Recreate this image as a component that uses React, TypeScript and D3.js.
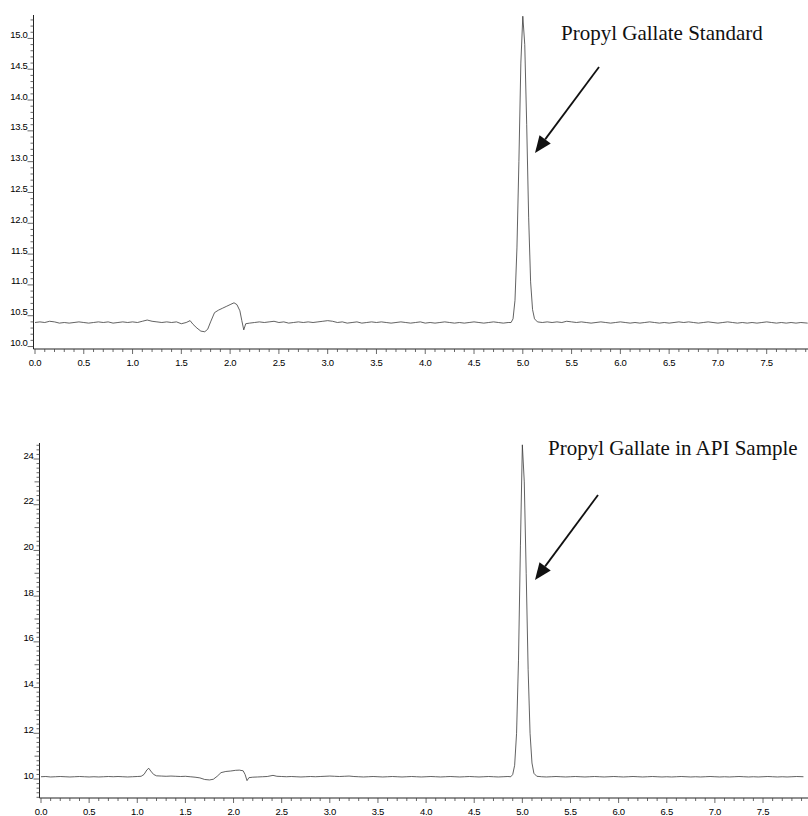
import React from "react";
import * as d3 from "d3";

// ---------- data ----------
const xTickLabels = ["0.0","0.5","1.0","1.5","2.0","2.5","3.0","3.5","4.0","4.5","5.0","5.5","6.0","6.5","7.0","7.5"];
const stdYTickLabels = ["10.0","10.5","11.0","11.5","12.0","12.5","13.0","13.5","14.0","14.5","15.0"];
const sampleYTickLabels = ["10","12","14","16","18","20","22","24"];

const stdTitle = "Propyl Gallate Standard";
const sampleTitle = "Propyl Gallate in API Sample";

// [time (min), signal]
const stdTrace: [number, number][] = [
  [0.00,10.39],[0.05,10.40],[0.10,10.39],[0.15,10.41],[0.20,10.40],[0.25,10.38],[0.30,10.39],[0.35,10.38],
  [0.40,10.39],[0.45,10.40],[0.50,10.39],[0.55,10.38],[0.60,10.39],[0.65,10.40],[0.70,10.39],[0.75,10.40],
  [0.80,10.38],[0.85,10.39],[0.90,10.40],[0.95,10.39],[1.00,10.40],[1.05,10.39],[1.10,10.41],[1.15,10.43],
  [1.20,10.41],[1.25,10.40],[1.30,10.39],[1.35,10.40],[1.40,10.39],[1.45,10.40],[1.50,10.37],[1.55,10.39],
  [1.59,10.42],[1.62,10.36],[1.66,10.30],[1.70,10.25],[1.74,10.24],[1.77,10.28],[1.80,10.40],[1.84,10.55],
  [1.88,10.59],[1.92,10.62],[1.96,10.65],[2.00,10.68],[2.04,10.71],[2.07,10.68],[2.10,10.58],[2.12,10.42],
  [2.14,10.27],[2.16,10.37],[2.20,10.38],[2.25,10.39],[2.30,10.40],[2.35,10.39],[2.40,10.40],[2.45,10.41],
  [2.50,10.39],[2.55,10.40],[2.60,10.38],[2.65,10.39],[2.70,10.40],[2.75,10.39],[2.80,10.40],[2.85,10.39],
  [2.90,10.40],[2.95,10.41],[3.00,10.42],[3.05,10.41],[3.10,10.39],[3.15,10.40],[3.20,10.38],[3.25,10.39],
  [3.30,10.40],[3.35,10.38],[3.40,10.39],[3.45,10.40],[3.50,10.39],[3.55,10.40],[3.60,10.39],[3.65,10.38],
  [3.70,10.39],[3.75,10.40],[3.80,10.39],[3.85,10.38],[3.90,10.39],[3.95,10.40],[4.00,10.38],[4.05,10.39],
  [4.10,10.38],[4.15,10.39],[4.20,10.40],[4.25,10.39],[4.30,10.38],[4.35,10.39],[4.40,10.38],[4.45,10.39],
  [4.50,10.40],[4.55,10.39],[4.60,10.38],[4.65,10.39],[4.70,10.40],[4.75,10.39],[4.80,10.38],[4.85,10.39],
  [4.88,10.39],[4.90,10.45],[4.92,10.75],[4.94,11.60],[4.96,13.00],[4.98,14.60],[5.00,15.36],[5.02,14.90],
  [5.04,13.60],[5.06,12.10],[5.08,11.05],[5.10,10.60],[5.12,10.45],[5.15,10.40],[5.20,10.39],[5.25,10.40],
  [5.30,10.39],[5.35,10.40],[5.40,10.39],[5.45,10.41],[5.50,10.40],[5.55,10.39],[5.60,10.40],[5.65,10.39],
  [5.70,10.38],[5.75,10.39],[5.80,10.40],[5.85,10.39],[5.90,10.38],[5.95,10.39],[6.00,10.40],[6.05,10.39],
  [6.10,10.38],[6.15,10.39],[6.20,10.38],[6.25,10.39],[6.30,10.40],[6.35,10.39],[6.40,10.38],[6.45,10.39],
  [6.50,10.38],[6.55,10.39],[6.60,10.40],[6.65,10.39],[6.70,10.40],[6.75,10.39],[6.80,10.38],[6.85,10.39],
  [6.90,10.40],[6.95,10.39],[7.00,10.38],[7.05,10.39],[7.10,10.40],[7.15,10.39],[7.20,10.38],[7.25,10.39],
  [7.30,10.38],[7.35,10.39],[7.40,10.38],[7.45,10.39],[7.50,10.40],[7.55,10.39],[7.60,10.38],[7.65,10.39],
  [7.70,10.38],[7.75,10.39],[7.80,10.38],[7.85,10.39],[7.92,10.38]
];

const sampleTrace: [number, number][] = [
  [0.00,10.10],[0.05,10.11],[0.10,10.09],[0.15,10.10],[0.20,10.11],[0.25,10.10],[0.30,10.09],[0.35,10.10],
  [0.40,10.11],[0.45,10.10],[0.50,10.09],[0.55,10.10],[0.60,10.09],[0.65,10.10],[0.70,10.11],[0.75,10.10],
  [0.80,10.11],[0.85,10.10],[0.90,10.09],[0.95,10.10],[1.00,10.11],[1.04,10.12],[1.07,10.20],[1.10,10.40],
  [1.12,10.47],[1.14,10.35],[1.17,10.20],[1.20,10.14],[1.25,10.13],[1.30,10.12],[1.35,10.13],[1.40,10.12],
  [1.45,10.11],[1.50,10.12],[1.55,10.10],[1.60,10.08],[1.65,10.05],[1.70,9.98],[1.75,9.96],[1.79,9.99],
  [1.83,10.12],[1.87,10.28],[1.92,10.33],[1.97,10.35],[2.02,10.38],[2.06,10.39],[2.10,10.36],[2.12,10.20],
  [2.14,9.93],[2.16,10.06],[2.20,10.08],[2.25,10.09],[2.30,10.10],[2.35,10.11],[2.41,10.16],[2.45,10.12],
  [2.50,10.11],[2.55,10.10],[2.60,10.11],[2.65,10.10],[2.70,10.09],[2.75,10.10],[2.80,10.11],[2.85,10.10],
  [2.90,10.11],[2.95,10.12],[3.00,10.13],[3.05,10.12],[3.10,10.11],[3.15,10.12],[3.20,10.13],[3.25,10.11],
  [3.30,10.10],[3.35,10.09],[3.40,10.10],[3.45,10.11],[3.50,10.10],[3.55,10.09],[3.60,10.10],[3.65,10.11],
  [3.70,10.10],[3.75,10.09],[3.80,10.10],[3.85,10.11],[3.90,10.10],[3.95,10.09],[4.00,10.10],[4.05,10.11],
  [4.10,10.10],[4.15,10.09],[4.20,10.10],[4.25,10.11],[4.30,10.10],[4.35,10.09],[4.40,10.10],[4.45,10.11],
  [4.50,10.10],[4.55,10.09],[4.60,10.10],[4.65,10.11],[4.70,10.10],[4.75,10.09],[4.80,10.10],[4.85,10.11],
  [4.88,10.10],[4.90,10.20],[4.92,10.60],[4.94,12.00],[4.96,15.20],[4.98,20.20],[5.00,24.62],[5.02,23.00],
  [5.04,19.00],[5.06,14.80],[5.08,12.00],[5.10,10.70],[5.12,10.25],[5.15,10.12],[5.20,10.10],[5.25,10.09],
  [5.30,10.10],[5.35,10.11],[5.40,10.10],[5.45,10.09],[5.50,10.10],[5.55,10.11],[5.60,10.10],[5.65,10.09],
  [5.70,10.10],[5.75,10.11],[5.80,10.10],[5.85,10.09],[5.90,10.10],[5.95,10.11],[6.00,10.10],[6.05,10.09],
  [6.10,10.10],[6.15,10.11],[6.20,10.10],[6.25,10.09],[6.30,10.10],[6.35,10.11],[6.40,10.10],[6.45,10.09],
  [6.50,10.10],[6.55,10.09],[6.60,10.10],[6.65,10.11],[6.70,10.10],[6.75,10.09],[6.80,10.10],[6.85,10.09],
  [6.90,10.10],[6.95,10.11],[7.00,10.10],[7.05,10.09],[7.10,10.10],[7.15,10.09],[7.20,10.10],[7.25,10.11],
  [7.30,10.10],[7.35,10.09],[7.40,10.10],[7.45,10.09],[7.50,10.10],[7.55,10.11],[7.60,10.10],[7.65,10.09],
  [7.70,10.10],[7.75,10.09],[7.80,10.10],[7.85,10.11],[7.92,10.10]
];

// ---------- panel ----------
type PanelProps = {
  trace: [number, number][];
  yLabels: string[];
  yDomain: [number, number];
  yMinorStep: number;
  yMidStep: number;
  top: number;
  bottom: number;
  axisX: number;
  x0: number;
  pxPerMin: number;
  fontSize: number;
  title: string;
  titleX: number;
  titleY: number;
  arrow: [number, number, number, number];
};

function Panel(p: PanelProps) {
  const right = 808;
  const x = d3.scaleLinear().domain([0, (right - p.x0) / p.pxPerMin]).range([p.x0, right]);
  const y = d3.scaleLinear().domain(p.yDomain).range([p.bottom, p.top]);
  const line = d3.line<[number, number]>().x(d => x(d[0])).y(d => y(d[1])).curve(d3.curveLinear);

  const xMinor = d3.range(0, 7.96, 0.1);
  const yMin = p.yDomain[0], yMax = p.yDomain[1];
  const yMinor = d3.range(Math.ceil(yMin / p.yMinorStep) * p.yMinorStep, yMax, p.yMinorStep);
  const yVals = p.yLabels.map(Number);

  const [ax1, ay1, ax2, ay2] = p.arrow;
  const ang = Math.atan2(ay2 - ay1, ax2 - ax1);
  const hl = 17, hw = 7;
  const bx = ax2 - hl * Math.cos(ang), by = ay2 - hl * Math.sin(ang);
  const head = [
    [ax2, ay2],
    [bx + hw * Math.sin(ang), by - hw * Math.cos(ang)],
    [bx - hw * Math.sin(ang), by + hw * Math.cos(ang)],
  ].map(d => d.join(",")).join(" ");

  const near = (v: number, s: number) => Math.abs(v / s - Math.round(v / s)) < 1e-6;
  const tickFont = "Liberation Sans, Arial, sans-serif";

  return (
    <g>
      <line x1={p.axisX} x2={p.axisX} y1={p.top} y2={p.bottom} stroke="#222" strokeWidth={1} />
      <line x1={p.axisX} x2={right} y1={p.bottom} y2={p.bottom} stroke="#222" strokeWidth={1} />
      {xMinor.map((t, i) => {
        const major = i % 5 === 0;
        return <line key={"xt" + i} x1={x(t)} x2={x(t)} y1={p.bottom} y2={p.bottom + (major ? 5 : 3)} stroke="#444" strokeWidth={0.8} />;
      })}
      {xTickLabels.map((l, i) => (
        <text key={"xl" + i} x={x(+l)} y={p.bottom + 17} textAnchor="middle" fontSize={p.fontSize}
          fontFamily={tickFont} fill="#000" letterSpacing={-0.3}>{l}</text>
      ))}
      {yMinor.map((v, i) => {
        const isLab = yVals.some(l => Math.abs(l - v) < 1e-6);
        const mid = near(v, p.yMidStep);
        const len = isLab ? 6 : mid ? 5 : 3;
        return <line key={"yt" + i} x1={p.axisX - len} x2={p.axisX} y1={y(v)} y2={y(v)} stroke="#444" strokeWidth={0.8} />;
      })}
      {p.yLabels.map((l, i) => (
        <text key={"yl" + i} x={p.axisX - 6} y={y(+l) - 0.5} textAnchor="end" fontSize={p.fontSize}
          fontFamily={tickFont} fill="#000" letterSpacing={-0.3}>{l}</text>
      ))}
      <path d={line(p.trace) || ""} fill="none" stroke="#3a3a3a" strokeWidth={0.8} />
      <text x={p.titleX} y={p.titleY} fontSize={21} fontFamily="Liberation Serif, Times New Roman, serif" fill="#111">{p.title}</text>
      <line x1={ax1} y1={ay1} x2={bx} y2={by} stroke="#111" strokeWidth={1.8} />
      <polygon points={head} fill="#111" />
    </g>
  );
}

export default function App() {
  return (
    <svg width={808} height={816} style={{ position: "absolute", left: 0, top: 0, background: "#fff" }}>
      <rect x={0} y={0} width={808} height={816} fill="#fff" />
      <Panel
        trace={stdTrace}
        yLabels={stdYTickLabels}
        yDomain={[9.96, 15.38]}
        yMinorStep={0.1}
        yMidStep={0.5}
        top={15}
        bottom={349}
        axisX={33.5}
        x0={35}
        pxPerMin={97.56}
        fontSize={9.5}
        title={stdTitle}
        titleX={561}
        titleY={40}
        arrow={[599, 67, 535, 153]}
      />
      <Panel
        trace={sampleTrace}
        yLabels={sampleYTickLabels}
        yDomain={[9.17, 24.7]}
        yMinorStep={0.2}
        yMidStep={1}
        top={443}
        bottom={798}
        axisX={39.5}
        x0={41}
        pxPerMin={96.27}
        fontSize={9.5}
        title={sampleTitle}
        titleX={548}
        titleY={455}
        arrow={[598, 495, 535, 580]}
      />
    </svg>
  );
}
